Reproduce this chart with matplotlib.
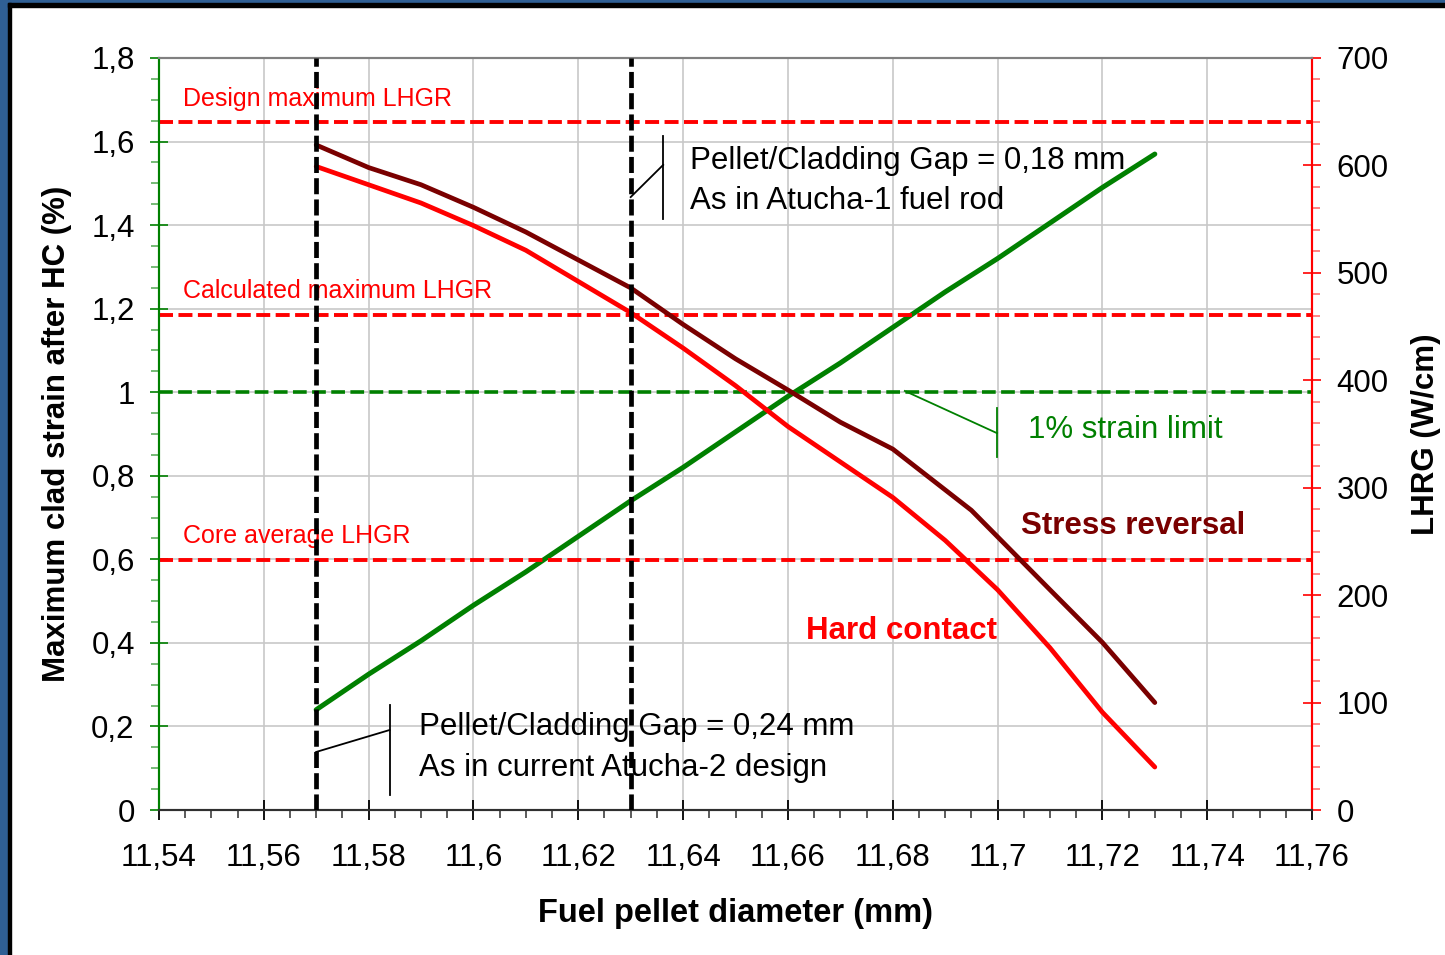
import matplotlib
matplotlib.use("Agg")
import matplotlib.pyplot as plt
from matplotlib.patches import Rectangle
from matplotlib.ticker import FixedLocator, MultipleLocator

plt.rcParams["font.family"] = ["Liberation Sans", "DejaVu Sans"]

# pellet diameter (mm)
diam = [11.57, 11.58, 11.59, 11.60, 11.61, 11.62, 11.63, 11.64, 11.65,
        11.66, 11.67, 11.68, 11.69, 11.70, 11.71, 11.72, 11.73]
# max clad strain after hard contact (%)
strain = [0.24, 0.325, 0.405, 0.49, 0.57, 0.655, 0.74, 0.82, 0.905,
          0.99, 1.07, 1.155, 1.24, 1.32, 1.405, 1.49, 1.57]

# LHGR curves (W/cm)
diam_sr = [11.57, 11.58, 11.59, 11.60, 11.61, 11.62, 11.63, 11.64, 11.65,
           11.66, 11.67, 11.68, 11.695, 11.71, 11.72, 11.73]
lhgr_stress_rev = [619, 598, 582, 561, 538, 512, 486, 452, 420,
                   391, 361, 336, 279, 205, 156, 100]
diam_hc = [11.57, 11.58, 11.59, 11.60, 11.61, 11.62, 11.63, 11.64, 11.65,
           11.66, 11.67, 11.68, 11.69, 11.70, 11.71, 11.72, 11.73]
lhgr_hard_contact = [599, 582, 565, 544, 521, 492, 463, 430, 395,
                     357, 324, 291, 251, 205, 151, 91, 40]

# reference levels
lhgr_levels = [640, 461, 233]
lhgr_labels = ["Design maximum LHGR", "Calculated maximum LHGR", "Core average LHGR"]
strain_limit = 1.0
gap_diams = [11.57, 11.63]

x_ticks = [11.54, 11.56, 11.58, 11.60, 11.62, 11.64, 11.66, 11.68, 11.70, 11.72, 11.74, 11.76]
x_ticklabels = ["11,54", "11,56", "11,58", "11,6", "11,62", "11,64", "11,66",
                "11,68", "11,7", "11,72", "11,74", "11,76"]
y_ticks = [0, 0.2, 0.4, 0.6, 0.8, 1.0, 1.2, 1.4, 1.6, 1.8]
y_ticklabels = ["0", "0,2", "0,4", "0,6", "0,8", "1", "1,2", "1,4", "1,6", "1,8"]
y2_ticks = [0, 100, 200, 300, 400, 500, 600, 700]
y2_ticklabels = ["0", "100", "200", "300", "400", "500", "600", "700"]

GREEN = "#008000"
RED = "#FF0000"
DARKRED = "#7A0000"

fig = plt.figure(figsize=(14.45, 9.55), dpi=100)
ax = fig.add_axes([0.1100, 0.1518, 0.7980, 0.7875])
ax2 = ax.twinx()

# outer frame of the slide
fig.patches.append(Rectangle((0, 0), 8 / 1445, 1, transform=fig.transFigure,
                             color="#2F5F94", zorder=-10))
fig.patches.append(Rectangle((0, 1 - 3 / 955), 1, 3 / 955, transform=fig.transFigure,
                             color="#2F5F94", zorder=-10))
fig.patches.append(Rectangle((8 / 1445, 0), 3 / 1445, 1 - 3 / 955, transform=fig.transFigure,
                             color="black", zorder=-9))
fig.patches.append(Rectangle((8 / 1445, 1 - 7 / 955), 1, 4 / 955, transform=fig.transFigure,
                             color="black", zorder=-9))

ax.set_xlim(11.54, 11.76)
ax.set_ylim(0, 1.8)
ax2.set_ylim(0, 700)

ax.grid(True, color="#C8C8C8", lw=1.2)
ax.set_axisbelow(True)

# strain curve and limit
ax.plot(diam, strain, color=GREEN, lw=3.6, solid_capstyle="round", zorder=3)
ax.axhline(strain_limit, color=GREEN, lw=2.6, ls=(0, (3.8, 1.5)), zorder=2)

# LHGR curves
ax2.plot(diam_sr, lhgr_stress_rev, color=DARKRED, lw=3.4, solid_capstyle="round", zorder=3)
ax2.plot(diam_hc, lhgr_hard_contact, color=RED, lw=3.4, solid_capstyle="round", zorder=3)
for lev, lab in zip(lhgr_levels, lhgr_labels):
    ax2.axhline(lev, color=RED, lw=2.8, ls=(0, (3.6, 1.4)), zorder=2)
    ax2.text(11.5446, lev + 22, lab, color=RED, fontsize=18, va="center", ha="left")

for d in gap_diams:
    ax2.axvline(d, color="black", lw=3.4, ls=(0, (3.4, 1.1)), zorder=5)

# callouts
ax.plot([11.57, 11.584], [0.139, 0.1915], color="black", lw=1.3)
ax.plot([11.584, 11.584], [0.036, 0.251], color="black", lw=1.3)
ax.text(11.5896, 0.150, "Pellet/Cladding Gap = 0,24 mm\nAs in current Atucha-2 design",
        fontsize=22.5, va="center", ha="left", linespacing=1.45)

ax.plot([11.63, 11.6362], [1.467, 1.544], color="black", lw=1.3)
ax.plot([11.6362, 11.6362], [1.415, 1.613], color="black", lw=1.3)
ax.text(11.6413, 1.506, "Pellet/Cladding Gap = 0,18 mm\nAs in Atucha-1 fuel rod",
        fontsize=22.5, va="center", ha="left", linespacing=1.45)

ax.plot([11.6823, 11.6999], [1.003, 0.902], color=GREEN, lw=1.3)
ax.plot([11.6999, 11.6999], [0.845, 0.962], color=GREEN, lw=1.3)
ax.text(11.7058, 0.9095, "1% strain limit", color=GREEN, fontsize=22.5, va="center", ha="left")

ax.text(11.7045, 0.68, "Stress reversal", color=DARKRED, fontsize=22.5,
        fontweight="bold", va="center", ha="left")
ax.text(11.6634, 0.428, "Hard contact", color=RED, fontsize=22.5,
        fontweight="bold", va="center", ha="left")

# ticks
ax.xaxis.set_major_locator(FixedLocator(x_ticks))
ax.set_xticklabels(x_ticklabels)
ax.xaxis.set_minor_locator(MultipleLocator(0.005))
ax.yaxis.set_major_locator(FixedLocator(y_ticks))
ax.set_yticklabels(y_ticklabels)
ax.yaxis.set_minor_locator(MultipleLocator(0.05))
ax2.yaxis.set_major_locator(FixedLocator(y2_ticks))
ax2.set_yticklabels(y2_ticklabels)
ax2.yaxis.set_minor_locator(MultipleLocator(20))

ax.tick_params(axis="x", which="major", direction="inout", length=14, width=1.3,
               labelsize=22.5, pad=17, colors="black")
ax.tick_params(axis="x", which="minor", direction="out", length=6, width=1.2, color="#404040")
ax.tick_params(axis="y", which="major", direction="inout", length=13, width=1.2,
               labelsize=22.5, pad=11, color=GREEN, labelcolor="black")
ax.tick_params(axis="y", which="minor", direction="out", length=6, width=1.2, color="#5FAF5F")
ax2.tick_params(axis="y", which="major", direction="inout", length=13, width=1.2,
                labelsize=22.5, pad=11, color=RED, labelcolor="black")
ax2.tick_params(axis="y", which="minor", direction="out", length=6, width=1.2, color="#FF7070")

for a in (ax, ax2):
    a.spines["left"].set_color(GREEN)
    a.spines["right"].set_color(RED)
    a.spines["top"].set_color("#808080")
    a.spines["bottom"].set_color("#303030")
    for s in a.spines.values():
        s.set_linewidth(1.5)

ax.set_xlabel("Fuel pellet diameter (mm)", fontsize=23.5, fontweight="bold", labelpad=18)
ax.set_ylabel("Maximum clad strain after HC (%)", fontsize=22.5, fontweight="bold", labelpad=14)
ax2.set_ylabel("LHRG (W/cm)", fontsize=22.5, fontweight="bold", labelpad=16)

fig.savefig("out.png", dpi=100)
